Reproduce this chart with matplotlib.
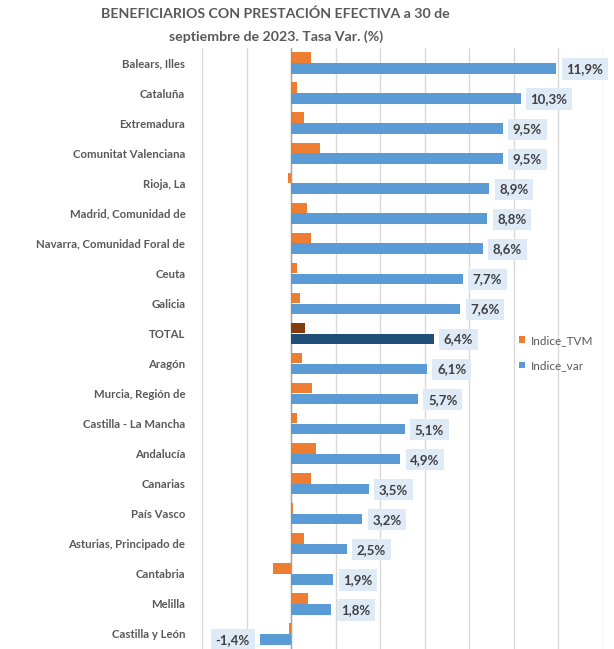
import numpy as np
import matplotlib.pyplot as plt

plt.rcParams['font.family'] = ['Lato', 'DejaVu Sans']

categorias = ["Balears, Illes", "Cataluña", "Extremadura", "Comunitat Valenciana",
              "Rioja, La", "Madrid, Comunidad de", "Navarra, Comunidad Foral de",
              "Ceuta", "Galicia", "TOTAL", "Aragón", "Murcia, Región de",
              "Castilla - La Mancha", "Andalucía", "Canarias", "País Vasco",
              "Asturias, Principado de", "Cantabria", "Melilla", "Castilla y León"]
indice_var = [11.9, 10.3, 9.5, 9.5, 8.9, 8.8, 8.6, 7.7, 7.6, 6.4, 6.1, 5.7,
              5.1, 4.9, 3.5, 3.2, 2.5, 1.9, 1.8, -1.4]
indice_tvm = [0.9, 0.25, 0.58, 1.3, -0.15, 0.7, 0.9, 0.27, 0.4, 0.63, 0.48, 0.93,
              0.25, 1.1, 0.9, 0.1, 0.58, -0.82, 0.75, -0.1]

y = np.arange(len(categorias))
c_var = ['#1F4E79' if c == "TOTAL" else '#5B9BD5' for c in categorias]
c_tvm = ['#843C0C' if c == "TOTAL" else '#ED7D31' for c in categorias]

fig = plt.figure(figsize=(6.14, 6.49), dpi=100)
ax = fig.add_axes([0.329, 0.0, 0.653, 0.926])

ax.barh(y - 0.18, indice_tvm, height=0.35, color=c_tvm, label='Indice_TVM', zorder=3)
ax.barh(y + 0.18, indice_var, height=0.35, color=c_var, label='Indice_var', zorder=3)

for yi, v in zip(y, indice_var):
    txt = f"{v:.1f}%".replace('.', ',')
    if v >= 0:
        ax.text(v + 0.45, yi + 0.2, txt, ha='left', va='center', fontsize=9.5,
                fontweight='bold', color='#404040', zorder=4,
                bbox=dict(boxstyle='square,pad=0.35', fc='#DEEAF6', ec='none'))
    else:
        ax.text(v - 0.45, yi + 0.2, txt, ha='right', va='center', fontsize=9.5,
                fontweight='bold', color='#404040', zorder=4,
                bbox=dict(boxstyle='square,pad=0.35', fc='#DEEAF6', ec='none'))

ax.set_xlim(-4, 14)
ax.set_ylim(len(categorias) - 0.5, -0.5)
ax.set_xticks(np.arange(-4, 15, 2))
ax.set_xticklabels([])
ax.tick_params(axis='x', length=0)
ax.set_yticks(y)
ax.set_yticklabels(categorias, fontsize=8.2, fontweight='bold', color='#595959')
ax.tick_params(axis='y', length=0, pad=12)
ax.grid(axis='x', color='#D9D9D9', linewidth=1, zorder=0)
for s in ax.spines.values():
    s.set_visible(False)
ax.axvline(0, color='#A6A6A6', linewidth=1, zorder=2)

ax.legend(loc='center left', bbox_to_anchor=(0.765, 0.4925), frameon=False,
          fontsize=8.5, handlelength=0.5, handleheight=0.5, handletextpad=0.5,
          labelspacing=1.2, labelcolor='#595959')

fig.suptitle("BENEFICIARIOS CON PRESTACIÓN EFECTIVA a 30 de\nseptiembre de 2023. Tasa Var. (%)",
             x=0.449, y=0.988, fontsize=10.2, fontweight='bold', color='#595959',
             linespacing=1.95)

fig.savefig('out.png')
